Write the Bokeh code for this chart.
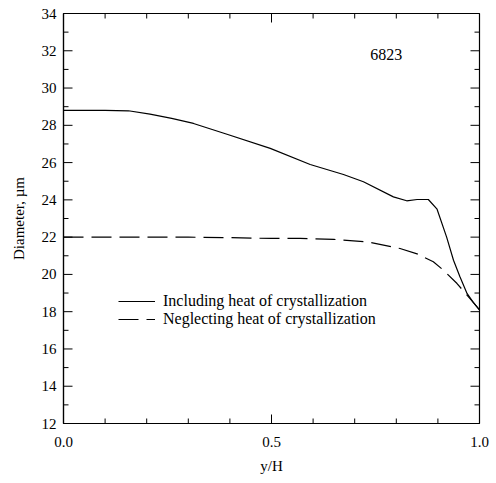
import math
from bokeh.plotting import figure
from bokeh.models import LinearAxis, Legend, LegendItem, FixedTicker, Range1d
from bokeh.models import CustomJSTickFormatter
from bokeh.core.properties import value
from bokeh.embed import file_html
from bokeh.resources import INLINE

# Particle diameter along the dimensionless height y/H
y_over_h_incl = [0.0, 0.05, 0.10, 0.156, 0.208, 0.26, 0.3125, 0.393, 0.497, 0.593,
                 0.673, 0.721, 0.793, 0.825, 0.85, 0.877, 0.898, 0.921, 0.9375,
                 0.953, 0.97, 0.985, 1.0]
diam_incl = [28.8, 28.8, 28.8, 28.78, 28.6, 28.37, 28.1, 27.52, 26.76, 25.9,
             25.36, 24.97, 24.16, 23.95, 24.02, 24.02, 23.5, 22.0, 20.76,
             19.87, 18.98, 18.5, 18.1]

y_over_h_negl = [0.0, 0.1, 0.2, 0.3, 0.4, 0.5, 0.569, 0.65, 0.729, 0.809, 0.85,
                 0.889, 0.913, 0.946, 0.97, 0.985, 1.0]
diam_negl = [22.0, 22.0, 22.0, 22.0, 21.97, 21.93, 21.93, 21.88, 21.75, 21.39,
             21.1, 20.68, 20.23, 19.51, 18.89, 18.5, 18.1]

x_ticks = [0.0, 0.5, 1.0]
x_minor_ticks = [0.1, 0.2, 0.3, 0.4, 0.6, 0.7, 0.8, 0.9]
y_ticks = [12, 14, 16, 18, 20, 22, 24, 26, 28, 30, 32, 34]
y_minor_ticks = [13, 15, 17, 19, 21, 23, 25, 27, 29, 31, 33]
run_label = "6823"

FONT = "Liberation Serif"
X0, X1 = 0.0, 1.0
Y0, Y1 = 12, 34

p = figure(width=496, height=483, output_backend="svg", toolbar_location=None,
           x_range=Range1d(X0, X1), y_range=Range1d(Y0, Y1),
           min_border_left=63, min_border_right=17, min_border_top=13,
           min_border_bottom=60, x_axis_location=None, y_axis_location=None)
p.background_fill_color = "white"
p.border_fill_color = "white"
p.outline_line_color = "black"
p.outline_line_width = 1.2
p.xgrid.visible = False
p.ygrid.visible = False


def style_axis(ax, ticks):
    ax.ticker = FixedTicker(ticks=ticks)
    ax.axis_line_color = "black"
    ax.axis_line_width = 1.2
    ax.major_tick_in = 0
    ax.major_tick_out = 0
    ax.minor_tick_in = 0
    ax.minor_tick_out = 0
    ax.major_label_text_font = FONT
    ax.major_label_text_font_size = "15px"
    ax.major_label_text_color = "black"
    ax.axis_label_text_font = FONT
    ax.axis_label_text_font_size = "15px"
    ax.axis_label_text_font_style = "normal"
    ax.axis_label_text_color = "black"


xb = LinearAxis(axis_label="y/H")
style_axis(xb, x_ticks)
xb.formatter = CustomJSTickFormatter(code="return tick.toFixed(1);")
xb.major_label_standoff = 13
xb.axis_label_standoff = 8
p.add_layout(xb, "below")

yl = LinearAxis(axis_label="Diameter, µm")
style_axis(yl, y_ticks)
yl.major_label_standoff = 7
yl.axis_label_standoff = 12
p.add_layout(yl, "left")

# inward tick marks on all four sides of the frame
TICK = dict(line_color="black", line_width=1, length_units="screen")
p.ray(x=[X0] * len(y_ticks), y=y_ticks, length=9, angle=0, **TICK)
p.ray(x=[X1] * len(y_ticks), y=y_ticks, length=9, angle=math.pi, **TICK)
p.ray(x=[X0] * len(y_minor_ticks), y=y_minor_ticks, length=5, angle=0, **TICK)
p.ray(x=[X1] * len(y_minor_ticks), y=y_minor_ticks, length=5, angle=math.pi, **TICK)
p.ray(x=x_ticks, y=[Y0] * len(x_ticks), length=9, angle=math.pi / 2, **TICK)
p.ray(x=x_ticks, y=[Y1] * len(x_ticks), length=9, angle=-math.pi / 2, **TICK)
p.ray(x=x_minor_ticks, y=[Y0] * len(x_minor_ticks), length=5, angle=math.pi / 2, **TICK)
p.ray(x=x_minor_ticks, y=[Y1] * len(x_minor_ticks), length=5, angle=-math.pi / 2, **TICK)

r_incl = p.line(y_over_h_incl, diam_incl, line_color="black", line_width=1.2)
r_negl = p.line(y_over_h_negl, diam_negl, line_color="black", line_width=1.2,
                line_dash="20 8")

p.text(x=[0.776], y=[31.8], text=[run_label], text_font=value(FONT),
       text_font_size="16px", text_align="center", text_baseline="middle",
       text_color="black")

legend = Legend(items=[
    LegendItem(label="Including heat of crystallization", renderers=[r_incl]),
    LegendItem(label="Neglecting heat of crystallization", renderers=[r_negl]),
], location=(55, 95))
legend.glyph_width = 37
legend.glyph_height = 18
legend.label_height = 18
legend.label_standoff = 8
legend.spacing = 0
legend.padding = 0
legend.margin = 0
legend.border_line_color = None
legend.background_fill_alpha = 0
legend.label_text_font = FONT
legend.label_text_font_size = "16px"
legend.label_text_color = "black"
p.add_layout(legend, "center")

open("out.html", "w").write(file_html(p, INLINE))
